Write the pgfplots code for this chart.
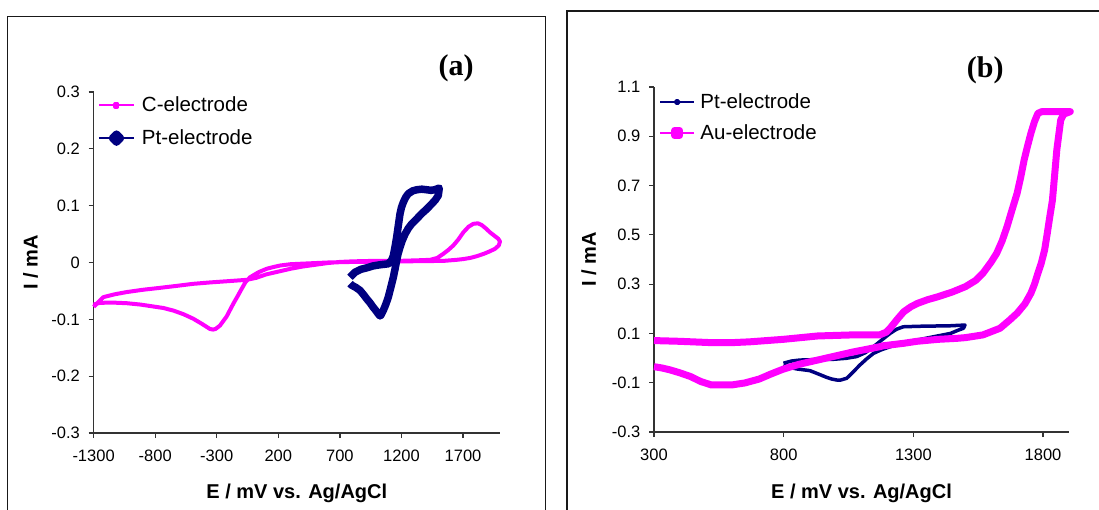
\documentclass[border=0pt]{standalone}
\usepackage{fontspec}
\setmainfont{Liberation Sans}
\newfontfamily\panelfont{Liberation Serif}
\usepackage{pgfplots}
\pgfplotsset{compat=1.18}

\definecolor{cvmagenta}{RGB}{255,0,255}
\definecolor{cvnavy}{RGB}{0,0,128}

\pgfplotsset{
  cvaxis/.style={
    scale only axis,
    axis lines=left,
    axis line style={-, line width=1.2pt, color=black!80},
    tick style={line width=1.2pt, color=black!80},
    tick align=outside,
    major tick length=5pt,
    minor tick num=0,
    clip=false,
    yticklabel style={font=\fontsize{16.5}{19}\selectfont, inner sep=0pt,
      anchor=east, xshift=-8.5pt},
    xticklabel style={font=\fontsize{16.5}{19}\selectfont, inner sep=0pt,
      anchor=north, yshift=-12pt},
    label style={font=\fontsize{20}{24}\selectfont\bfseries},
    ylabel style={anchor=base},
    xlabel style={anchor=base},
    legend style={draw=none, fill=none, inner sep=0pt, outer sep=0pt,
      font=\fontsize{20.5}{24}\selectfont, cells={anchor=west},
      nodes={inner sep=0pt}},
    legend cell align=left,
  },
}

\begin{document}
\begin{tikzpicture}
\useasboundingbox (0pt,0pt) rectangle (1099pt,509pt);

% outer frames of the two panels
\draw[line width=1.4pt, black!90] (7.5pt,492.5pt) rectangle (545.5pt,-20pt);
\draw[line width=1.4pt, black!90] (567pt,498pt) rectangle (1120pt,-20pt);

% ---------------- panel (a) ----------------
\begin{axis}[cvaxis,
  at={(93.6pt,76pt)}, anchor=south west,
  width=406.4pt, height=341pt,
  xmin=-1300, xmax=2000, ymin=-0.3, ymax=0.3,
  xtick={-1300,-800,-300,200,700,1200,1700},
  xticklabels={-1300,-800,-300,200,700,1200,1700},
  ytick={-0.3,-0.2,-0.1,0,0.1,0.2,0.3},
  yticklabels={-0.3,-0.2,-0.1,0,0.1,0.2,0.3},
  xlabel={E / mV vs. Ag/AgCl}, ylabel={I / mA},
  xlabel style={at={(axis description cs:0.5,-0.1935)}},
  ylabel style={at={(axis description cs:-0.1378,0.5)}},
  legend style={at={(axis description cs:0.0108,0.985)}, anchor=north west,
    row sep=16.5pt, column sep=7pt},
]
\addplot[cvmagenta, line width=4pt, line join=round,
  legend image code/.code={
    \draw[cvmagenta, line width=2pt] (0pt,0pt) -- (35pt,0pt);
    \fill[cvmagenta] (16.5pt,-1.5pt) rectangle (18.5pt,1.5pt);}]
coordinates {
(-1300,-0.078) (-1221,-0.061) (-1130,-0.056) (-1031,-0.052) (-900,-0.048)
(-761,-0.0446) (-620,-0.041) (-490,-0.0375) (-350,-0.035) (-219,-0.033)
(-57,-0.0305) (20,-0.027) (100,-0.021) (214,-0.0153) (300,-0.011)
(400,-0.007) (500,-0.004) (600,-0.001) (700,0.001) (800,0.002)
(1000,0.003) (1200,0.003) (1350,0.004) (1432,0.0047) (1490,0.008)
(1540,0.0153) (1580,0.022) (1621,0.030) (1660,0.040) (1702,0.053)
(1745,0.063) (1783,0.068) (1820,0.069) (1851,0.066) (1885,0.060)
(1919,0.053) (1955,0.047) (1986,0.0417) (2000,0.037) (1990,0.030)
(1959,0.024) (1910,0.019) (1865,0.015) (1810,0.011) (1757,0.008)
(1700,0.006) (1648,0.0047) (1550,0.003) (1432,0.0025) (1200,0.002)
(1000,0.0015) (800,0.001) (600,0) (400,-0.002) (300,-0.003)
(214,-0.0053) (160,-0.008) (106,-0.011) (40,-0.017) (-30,-0.026)
(-65,-0.034) (-97,-0.046) (-130,-0.059) (-166,-0.0727) (-220,-0.095)
(-274,-0.111) (-310,-0.117) (-330,-0.118) (-355,-0.117) (-420,-0.108)
(-490,-0.099) (-570,-0.091) (-653,-0.0845) (-735,-0.080) (-815,-0.0774)
(-920,-0.074) (-1031,-0.0716) (-1150,-0.0705) (-1250,-0.071) (-1300,-0.074)
};
\addlegendentry{C-electrode}

\addplot[cvnavy, line width=7.5pt, line join=round,
  legend image code/.code={
    \draw[cvnavy, line width=2pt] (0pt,0pt) -- (35pt,0pt);
    \fill[cvnavy] (17.5pt,4pt) -- (21.5pt,0pt) -- (17.5pt,-4pt) -- (13.5pt,0pt) -- cycle;}]
coordinates {
(782,-0.026) (823,-0.017) (870,-0.012) (918,-0.0094) (970,-0.006)
(1026,-0.004) (1093,-0.0023) (1120,0.004) (1134,0.012) (1148,0.028)
(1161,0.0446) (1175,0.066) (1188,0.0856) (1200,0.097) (1215,0.106)
(1235,0.115) (1255,0.121) (1290,0.126) (1324,0.128) (1365,0.129)
(1405,0.128) (1440,0.127) (1470,0.128) (1507,0.131)
(1499,0.118) (1475,0.110) (1445,0.103) (1405,0.094) (1364,0.086)
(1325,0.077) (1283,0.068) (1255,0.060) (1229,0.050) (1205,0.038)
(1188,0.027) (1172,0.015) (1161,0.0035) (1148,-0.011) (1134,-0.026)
(1113,-0.044) (1093,-0.061) (1072,-0.074) (1052,-0.0845) (1035,-0.092)
(1026,-0.094) (1010,-0.090) (990,-0.084) (971,-0.079) (945,-0.071)
(918,-0.064) (890,-0.056) (863,-0.049) (830,-0.044) (796,-0.040)
(782,-0.037)
};
\addlegendentry{Pt-electrode}

\node[font=\panelfont\fontsize{30}{34}\selectfont\bfseries, anchor=base]
  at (axis description cs:0.892,1.047) {(a)};
\end{axis}

% ---------------- panel (b) ----------------
\begin{axis}[cvaxis,
  at={(654pt,77pt)}, anchor=south west,
  width=415pt, height=345pt,
  xmin=300, xmax=1900, ymin=-0.3, ymax=1.1,
  xtick={300,800,1300,1800},
  xticklabels={300,800,1300,1800},
  ytick={-0.3,-0.1,0.1,0.3,0.5,0.7,0.9,1.1},
  yticklabels={-0.3,-0.1,0.1,0.3,0.5,0.7,0.9,1.1},
  xlabel={E / mV vs. Ag/AgCl}, ylabel={I / mA},
  xlabel style={at={(axis description cs:0.5,-0.194)}},
  ylabel style={at={(axis description cs:-0.1398,0.5)}},
  legend style={at={(axis description cs:0.012,0.98)}, anchor=north west,
    row sep=14.5pt, column sep=5pt},
]
\addplot[cvnavy, line width=3.5pt, line join=round,
  legend image code/.code={
    \draw[cvnavy, line width=2pt] (0pt,0pt) -- (34pt,0pt);
    \fill[cvnavy] (17pt,0pt) circle (1.6pt);}]
coordinates {
(799,-0.021) (830,-0.012) (863,-0.008) (930,-0.006) (991,-0.005)
(1040,-0.001) (1081,0.006) (1115,0.022) (1146,0.046) (1180,0.075)
(1210,0.100) (1235,0.117) (1261,0.127) (1320,0.129) (1377,0.130)
(1440,0.131) (1499,0.134)
(1493,0.121) (1470,0.112) (1443,0.100) (1380,0.087) (1313,0.073)
(1260,0.060) (1210,0.046) (1175,0.033) (1146,0.019) (1120,-0.003)
(1094,-0.028) (1068,-0.056) (1043,-0.082) (1020,-0.089) (1004,-0.089)
(985,-0.085) (965,-0.078) (930,-0.063) (901,-0.051) (850,-0.044)
(811,-0.035) (799,-0.028)
};
\addlegendentry{Pt-electrode}

\addplot[cvmagenta, line width=7pt, line join=round,
  legend image code/.code={
    \draw[cvmagenta, line width=2.5pt] (0pt,0pt) -- (34pt,0pt);
    \fill[cvmagenta] (14.5pt,-2.5pt) rectangle (19.5pt,2.5pt);}]
coordinates {
(300,0.071) (400,0.068) (521,0.0626) (600,0.0626) (670,0.066)
(798,0.076) (931,0.0897) (1064,0.094) (1170,0.094) (1195,0.105)
(1210,0.121) (1240,0.160) (1263,0.188) (1290,0.208) (1316,0.222)
(1355,0.237) (1395,0.249) (1450,0.268) (1501,0.290) (1540,0.315)
(1568,0.344) (1600,0.390) (1621,0.425) (1642,0.475) (1661,0.533)
(1680,0.600) (1700,0.669) (1714,0.735) (1727,0.804) (1740,0.860)
(1753,0.912) (1767,0.960) (1780,0.993) (1795,1.000) (1905,1.000)
(1880,0.990) (1868,0.966) (1853,0.845) (1846,0.760) (1836,0.640)
(1826,0.574) (1816,0.505) (1806,0.439) (1793,0.385) (1780,0.344)
(1767,0.300) (1753,0.263) (1730,0.220) (1700,0.182) (1672,0.155)
(1634,0.121) (1595,0.105) (1568,0.094) (1501,0.083) (1467,0.080)
(1395,0.076) (1313,0.068) (1263,0.060) (1184,0.050) (1170,0.046)
(1064,0.024) (931,-0.008) (860,-0.025) (798,-0.045) (750,-0.065)
(706,-0.085) (650,-0.101) (600,-0.109) (521,-0.109) (480,-0.095)
(441,-0.075) (400,-0.060) (362,-0.048) (330,-0.040) (300,-0.035)
};
\addlegendentry{Au-electrode}

\node[font=\panelfont\fontsize{30}{34}\selectfont\bfseries, anchor=base]
  at (axis description cs:0.798,1.027) {(b)};
\end{axis}
\end{tikzpicture}
\end{document}
